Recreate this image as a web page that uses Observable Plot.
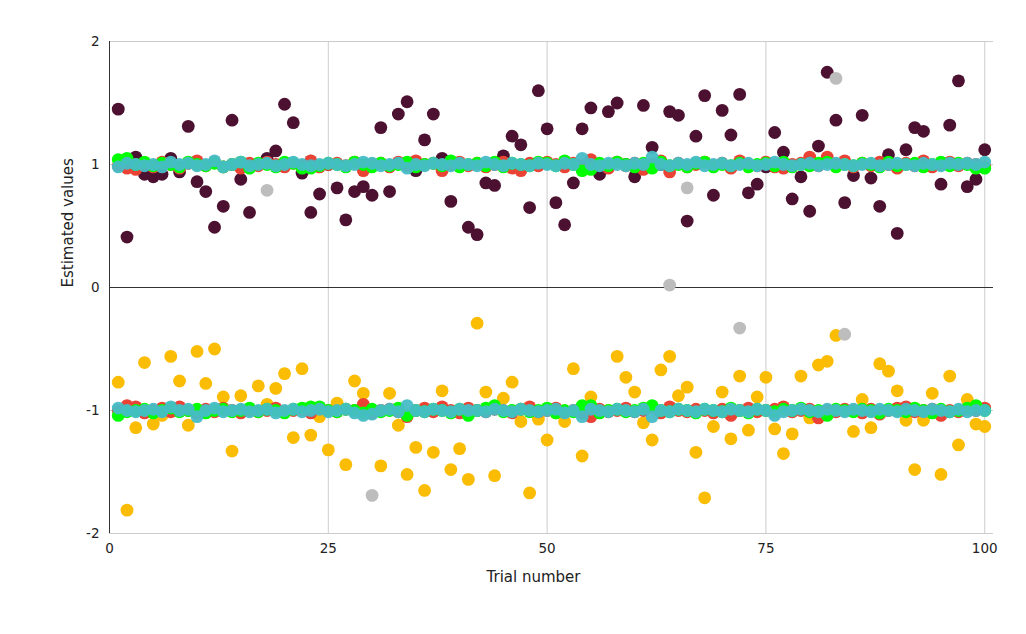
<!DOCTYPE html>
<html>
<head>
<meta charset="utf-8">
<script src="https://cdn.jsdelivr.net/npm/d3@7"></script>
<script src="https://cdn.jsdelivr.net/npm/@observablehq/plot@0.6"></script>
<style>
  html, body { margin: 0; padding: 0; background: #fff; }
  #chart { width: 1026px; height: 634px; }
</style>
</head>
<body>
<div id="chart"></div>
<script>
const trials = [
  1,2,3,4,5,6,7,8,9,10,
  11,12,13,14,15,16,17,18,19,20,
  21,22,23,24,25,26,27,28,29,30,
  31,32,33,34,35,36,37,38,39,40,
  41,42,43,44,45,46,47,48,49,50,
  51,52,53,54,55,56,57,58,59,60,
  61,62,63,64,65,66,67,68,69,70,
  71,72,73,74,75,76,77,78,79,80,
  81,82,83,84,85,86,87,88,89,90,
  91,92,93,94,95,96,97,98,99,100
];

const maroonValues = [
  1.45,0.41,1.06,0.92,0.90,0.92,1.05,0.94,1.31,0.86,
  0.78,0.49,0.66,1.36,0.88,0.61,1.00,1.05,1.11,1.49,
  1.34,0.93,0.61,0.76,1.00,0.81,0.55,0.78,0.82,0.75,
  1.30,0.78,1.41,1.51,0.95,1.20,1.41,1.05,0.70,1.00,
  0.49,0.43,0.85,0.83,1.07,1.23,1.16,0.65,1.60,1.29,
  0.69,0.51,0.85,1.29,1.46,0.92,1.43,1.50,1.00,0.90,
  1.48,1.14,1.00,1.43,1.40,0.54,1.23,1.56,0.75,1.44,
  1.24,1.57,0.77,0.84,0.98,1.26,1.10,0.72,0.90,0.62,
  1.15,1.75,1.36,0.69,0.91,1.40,0.89,0.66,1.08,0.44,
  1.12,1.30,1.27,0.99,0.84,1.32,1.68,0.82,0.88,1.12
];

const goldValues = [
  -0.77,-1.81,-1.14,-0.61,-1.11,-1.04,-0.56,-0.76,-1.12,-0.52,
  -0.78,-0.50,-0.89,-1.33,-0.88,-1.00,-0.80,-0.95,-0.82,-0.70,
  -1.22,-0.66,-1.20,-1.05,-1.32,-0.94,-1.44,-0.76,-0.86,-1.02,
  -1.45,-0.86,-1.12,-1.52,-1.30,-1.65,-1.34,-0.84,-1.48,-1.31,
  -1.56,-0.29,-0.85,-1.53,-0.90,-0.77,-1.09,-1.67,-1.07,-1.24,
  -1.02,-1.09,-0.66,-1.37,-0.89,-1.00,-1.00,-0.56,-0.73,-0.85,
  -1.10,-1.24,-0.67,-0.56,-0.88,-0.81,-1.34,-1.71,-1.13,-0.85,
  -1.23,-0.72,-1.16,-0.89,-0.73,-1.15,-1.35,-1.19,-0.72,-1.06,
  -0.63,-0.60,-0.39,-1.00,-1.17,-0.91,-1.14,-0.62,-0.68,-0.84,
  -1.08,-1.48,-1.08,-0.86,-1.52,-0.72,-1.28,-0.91,-1.11,-1.13
];

const grayTrials = [18, 23, 30, 42, 64, 66, 72, 76, 78, 83, 84, 88];
const grayValues = [0.79, 1.03, -1.69, -1.00, 0.02, 0.81, -0.33, -1.03, -1.01, 1.70, -0.38, -1.00];

const redTop = [
  0.99,0.97,0.96,1.01,0.98,1.02,1.00,0.97,1.01,1.03,
  0.99,1.02,0.98,1.00,0.97,1.01,0.99,1.02,1.00,0.98,
  1.01,0.99,1.03,0.98,1.00,1.01,0.99,1.02,0.95,1.00,
  1.01,0.98,1.02,0.99,1.03,1.00,1.01,0.95,1.00,1.02,
  0.99,1.01,0.98,1.00,1.02,0.97,0.95,1.01,0.99,1.02,
  1.00,0.98,1.01,0.99,1.04,1.00,0.97,1.02,0.99,1.01,
  0.96,1.00,1.03,0.94,1.01,0.98,1.00,1.02,0.99,1.01,
  0.97,1.03,1.00,0.99,1.02,0.98,0.97,1.00,1.01,1.06,
  0.99,1.06,1.00,1.03,0.98,1.01,0.99,1.02,1.00,0.97,
  1.01,0.99,1.03,0.98,1.00,1.02,0.99,1.01,1.00,0.98
];
const redBottom = [
  -1.00,-0.96,-0.97,-1.02,-1.00,-0.98,-1.01,-0.97,-1.00,-1.02,
  -0.99,-1.01,-0.98,-1.00,-1.02,-0.99,-1.01,-1.00,-0.98,-1.01,
  -1.00,-0.99,-1.02,-0.98,-1.00,-1.01,-0.99,-1.00,-0.95,-1.02,
  -1.00,-0.99,-1.01,-1.05,-1.00,-0.98,-1.01,-0.97,-1.00,-1.02,
  -0.98,-1.00,-1.01,-0.99,-1.00,-1.02,-0.99,-0.97,-1.01,-1.00,
  -0.98,-1.01,-1.00,-1.02,-1.05,-0.99,-1.01,-1.00,-0.98,-1.01,
  -1.00,-0.97,-1.02,-0.97,-1.00,-1.01,-0.99,-1.00,-1.02,-0.99,
  -1.04,-1.00,-0.98,-1.01,-1.00,-0.99,-0.97,-1.01,-1.00,-0.99,
  -1.06,-1.00,-1.01,-0.99,-1.00,-1.02,-0.99,-1.03,-1.00,-0.98,
  -0.97,-1.01,-1.00,-0.99,-1.04,-1.00,-1.01,-0.99,-1.00,-0.98
];
const greenTop = [
  1.04,1.05,1.00,1.02,0.99,1.01,1.00,0.98,1.02,1.00,
  0.99,1.01,0.98,1.00,1.02,0.97,1.01,1.00,0.98,1.02,
  1.01,0.97,0.97,0.99,1.01,1.00,0.98,1.02,1.00,0.98,
  1.01,0.99,1.00,1.02,0.98,1.00,1.01,0.99,1.03,0.98,
  1.00,1.01,0.99,1.02,0.98,1.01,1.00,0.99,1.02,1.01,
  0.99,1.03,1.00,0.95,0.96,1.01,0.99,1.02,1.00,0.98,
  1.01,0.97,1.02,0.99,1.00,0.98,1.01,1.02,0.98,1.00,
  0.99,1.01,0.98,1.00,1.01,0.99,1.02,0.98,1.00,0.99,
  1.01,1.02,0.98,1.00,0.99,1.01,1.00,0.98,1.02,0.99,
  1.00,1.01,0.98,1.00,1.02,0.99,1.01,1.00,0.97,0.97
];
const greenBottom = [
  -1.04,-1.01,-1.00,-0.99,-1.02,-1.00,-0.98,-1.01,-1.00,-0.99,
  -1.02,-1.00,-0.99,-1.01,-1.00,-0.98,-1.01,-0.99,-1.00,-1.02,
  -0.99,-0.98,-0.97,-0.97,-1.00,-1.01,-0.99,-1.00,-1.02,-0.99,
  -1.01,-1.00,-0.98,-1.04,-1.00,-1.01,-0.99,-1.00,-1.02,-0.99,
  -1.04,-1.00,-0.98,-0.96,-1.01,-1.00,-0.99,-1.01,-1.00,-0.98,
  -1.02,-1.00,-1.01,-0.96,-0.96,-1.02,-1.00,-0.99,-1.01,-1.00,
  -0.98,-0.96,-1.00,-1.01,-0.99,-1.00,-1.02,-0.99,-1.00,-1.01,
  -0.98,-1.00,-1.02,-0.99,-1.00,-1.01,-0.99,-1.00,-0.98,-1.01,
  -1.00,-1.04,-0.99,-1.00,-1.01,-0.99,-1.00,-1.02,-0.99,-1.00,
  -1.01,-0.98,-1.00,-1.02,-0.99,-1.01,-1.00,-0.98,-0.96,-1.00
];
const tealTop = [
  0.98,1.01,1.00,0.99,1.00,0.98,1.02,1.00,1.01,0.99,
  1.00,1.03,0.98,1.00,1.02,0.99,1.00,1.01,0.99,1.00,
  1.02,1.00,0.99,1.00,1.01,1.00,0.99,1.00,1.02,1.01,
  0.99,1.00,1.01,0.97,1.00,0.99,1.01,1.00,0.99,1.01,
  1.00,0.99,1.02,1.00,0.99,1.01,1.00,0.99,1.01,1.00,
  0.99,1.01,1.00,1.05,1.00,0.99,1.01,1.00,0.99,1.01,
  1.00,1.06,1.00,0.99,1.01,1.00,1.02,0.99,1.00,1.01,
  0.99,1.00,1.01,0.99,1.00,1.02,1.00,0.99,1.00,1.01,
  0.99,1.00,1.01,1.00,0.99,1.00,1.01,0.99,1.00,1.01,
  1.00,0.99,1.01,1.00,0.99,1.01,1.00,1.01,1.00,1.02
];
const tealBottom = [
  -0.98,-1.00,-1.01,-1.00,-0.99,-1.01,-0.97,-1.00,-0.99,-1.05,
  -1.00,-0.98,-1.01,-1.00,-0.99,-1.01,-1.00,-0.99,-1.02,-1.00,
  -0.99,-1.01,-1.00,-0.99,-1.01,-1.00,-0.99,-1.02,-1.04,-1.03,
  -1.00,-0.99,-1.01,-0.96,-1.00,-1.01,-0.99,-1.00,-1.01,-0.99,
  -1.00,-1.00,-1.01,-0.99,-1.00,-1.01,-0.99,-1.00,-1.01,-1.00,
  -0.99,-1.02,-1.00,-1.05,-0.99,-1.00,-1.01,-0.99,-1.00,-1.01,
  -0.99,-1.05,-1.00,-1.01,-0.99,-1.00,-1.01,-0.99,-1.00,-1.01,
  -0.99,-1.00,-1.01,-0.99,-1.00,-1.04,-1.01,-1.00,-0.99,-1.00,
  -1.01,-0.99,-1.00,-1.01,-0.99,-1.00,-1.01,-0.99,-1.00,-1.01,
  -0.99,-1.00,-1.01,-0.99,-1.00,-1.01,-0.99,-1.01,-1.00,-1.00
];

const xTicks = [0, 25, 50, 75, 100];
const yTicks = [-2, -1, 0, 1, 2];

const colors = {
  maroon: "#4c1130",
  gold: "#fbbc04",
  gray: "#bdbdbd",
  red: "#ea4335",
  green: "#00ff00",
  teal: "#46bdc6"
};

const R = 6.4;
const series = (vals) => vals.map((v, i) => ({t: trials[i], v}));
const dotMark = (data, fill, extra = {}) =>
  Plot.dot(data, {x: "t", y: "v", r: R, fill, stroke: null, ...extra});

const grayData = grayTrials.map((t, i) => ({t, v: grayValues[i]}));

const chart = Plot.plot({
  width: 1026,
  height: 634,
  marginLeft: 109,
  marginRight: 33,
  marginTop: 41,
  marginBottom: 101,
  style: {fontFamily: "'DejaVu Sans', Verdana, sans-serif", fontSize: "13.5px", background: "#fff", color: "#222"},
  x: {domain: [0, 101], ticks: xTicks},
  y: {domain: [-2, 2], ticks: yTicks},
  marks: [
    Plot.gridX(xTicks.filter(d => d !== 0), {stroke: "#cccccc", strokeOpacity: 1}),
    Plot.gridY(yTicks.filter(d => d !== 0), {stroke: "#cccccc", strokeOpacity: 1}),
    Plot.ruleY([0], {stroke: "#333"}),
    Plot.ruleX([0], {stroke: "#333"}),
    Plot.axisX({ticks: xTicks, tickSize: 0, tickPadding: 10, label: null, fontSize: 13.5, tickFormat: d => String(d)}),
    Plot.axisY({ticks: yTicks, tickSize: 0, tickPadding: 10, label: null, fontSize: 13.5, tickFormat: d => String(d)}),
    dotMark(series(maroonValues), colors.maroon),
    dotMark(series(goldValues), colors.gold),
    dotMark(grayData, colors.gray),
    dotMark(series(redTop), colors.red),
    dotMark(series(redBottom), colors.red),
    dotMark(series(greenTop), colors.green),
    dotMark(series(greenBottom), colors.green),
    dotMark(series(tealTop), colors.teal, {fillOpacity: 0.95}),
    dotMark(series(tealBottom), colors.teal, {fillOpacity: 0.95}),
    Plot.text(["Trial number"], {text: d => d, frameAnchor: "bottom", dy: 48, dx: -18, fontSize: 15, fill: "#222"}),
    Plot.text(["Estimated values"], {text: d => d, frameAnchor: "left", dx: -41, rotate: -90, fontSize: 15, fill: "#222"})
  ]
});

document.getElementById("chart").appendChild(chart);
</script>
</body>
</html>
